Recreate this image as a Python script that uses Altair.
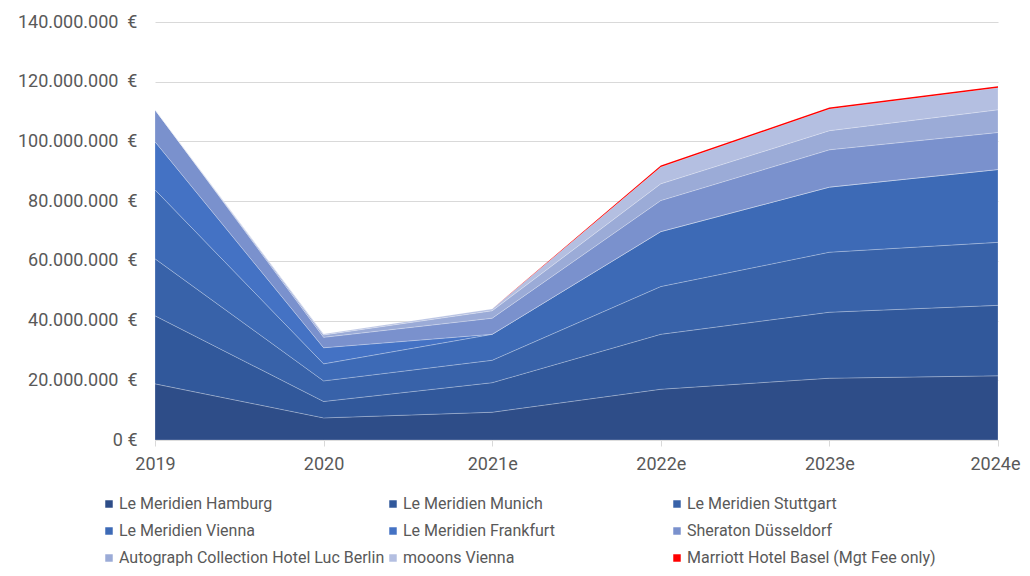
import altair as alt
import pandas as pd

years = ["2019", "2020", "2021e", "2022e", "2023e", "2024e"]
hotels = [
    "Le Meridien Hamburg",
    "Le Meridien Munich",
    "Le Meridien Stuttgart",
    "Le Meridien Vienna",
    "Le Meridien Frankfurt",
    "Sheraton Düsseldorf",
    "Autograph Collection Hotel Luc Berlin",
    "mooons Vienna",
    "Marriott Hotel Basel (Mgt Fee only)",
]
colors = ["#2E4D88", "#31589B", "#3862A9", "#3D6AB6", "#4472C4",
          "#7A91CD", "#9BABD7", "#B4BFE1", "#FF0000"]

# values in million EUR
hamburg = [18.8, 7.4, 9.3, 17.0, 20.7, 21.5]
munich = [22.8, 5.5, 9.9, 18.4, 22.1, 23.6]
stuttgart = [19.1, 6.9, 7.5, 16.0, 20.1, 21.1]
vienna = [23.1, 5.7, 8.7, 18.4, 21.8, 24.4]
frankfurt = [16.1, 5.4, 0.0, 0.0, 0.0, 0.0]
sheraton = [10.7, 3.5, 5.4, 10.4, 12.5, 12.4]
autograph = [0.0, 0.8, 2.5, 5.6, 6.4, 7.6]
mooons = [0.0, 0.3, 0.6, 5.6, 7.3, 7.4]
marriott = [0.0, 0.0, 0.0, 0.5, 0.5, 0.5]

series = [hamburg, munich, stuttgart, vienna, frankfurt, sheraton, autograph, mooons, marriott]

rows = []
for i, (h, vals) in enumerate(zip(hotels, series)):
    for y, v in zip(years, vals):
        rows.append({"year": y, "hotel": h, "idx": i, "value": v * 1_000_000})
df = pd.DataFrame(rows)

FONT = "Roboto"
GRAY = "#595959"
LAST = years[-1]

chart = alt.Chart(df).mark_area(strokeWidth=0.6, stroke="white").encode(
    x=alt.X("year:O", sort=years,
            scale=alt.Scale(type="point", padding=0),
            axis=alt.Axis(title=None, labelAngle=0, labelFontSize=18, labelFont=FONT,
                          labelColor=GRAY, domainColor="#D9D9D9", tickColor="#D9D9D9",
                          tickSize=6, labelPadding=9, grid=False,
                          labelAlign={"condition": {"test": f"datum.value === '{LAST}'", "value": "right"},
                                      "value": "center"},
                          labelOffset={"condition": {"test": f"datum.value === '{LAST}'", "value": 22},
                                       "value": 0})),
    y=alt.Y("value:Q", stack="zero",
            scale=alt.Scale(domain=[0, 140_000_000], nice=False),
            axis=alt.Axis(title=None, values=[i * 20_000_000 for i in range(8)],
                          labelExpr="datum.value == 0 ? '0 €' : replace(format(datum.value, ',d'), /,/g, '.') + '\u00a0\u00a0€'",
                          labelFontSize=18, labelFont=FONT, labelColor=GRAY,
                          ticks=False, domain=False, labelPadding=18,
                          gridColor="#D9D9D9", gridWidth=1)),
    color=alt.Color("hotel:N", sort=hotels,
                    scale=alt.Scale(domain=hotels, range=colors),
                    legend=alt.Legend(title=None, orient="none", legendX=-54, legendY=474,
                                      columns=3, direction="horizontal", gridAlign="all",
                                      symbolType="square", symbolSize=56, symbolStrokeWidth=0,
                                      labelFontSize=16, labelFont=FONT, labelColor=GRAY,
                                      labelLimit=400, rowPadding=11, columnPadding=-14,
                                      labelOffset=2)),
    order=alt.Order("idx:Q", sort="ascending"),
    strokeOpacity=alt.condition("datum.hotel === 'Marriott Hotel Basel (Mgt Fee only)'",
                                alt.value(0), alt.value(0.4)),
).properties(
    width=843, height=418,
    padding={"left": 147, "top": 14, "right": 24, "bottom": 128},
    autosize="none",
).configure_view(stroke=None)

chart.save("out.html", embed_options={"renderer": "svg", "actions": False})
